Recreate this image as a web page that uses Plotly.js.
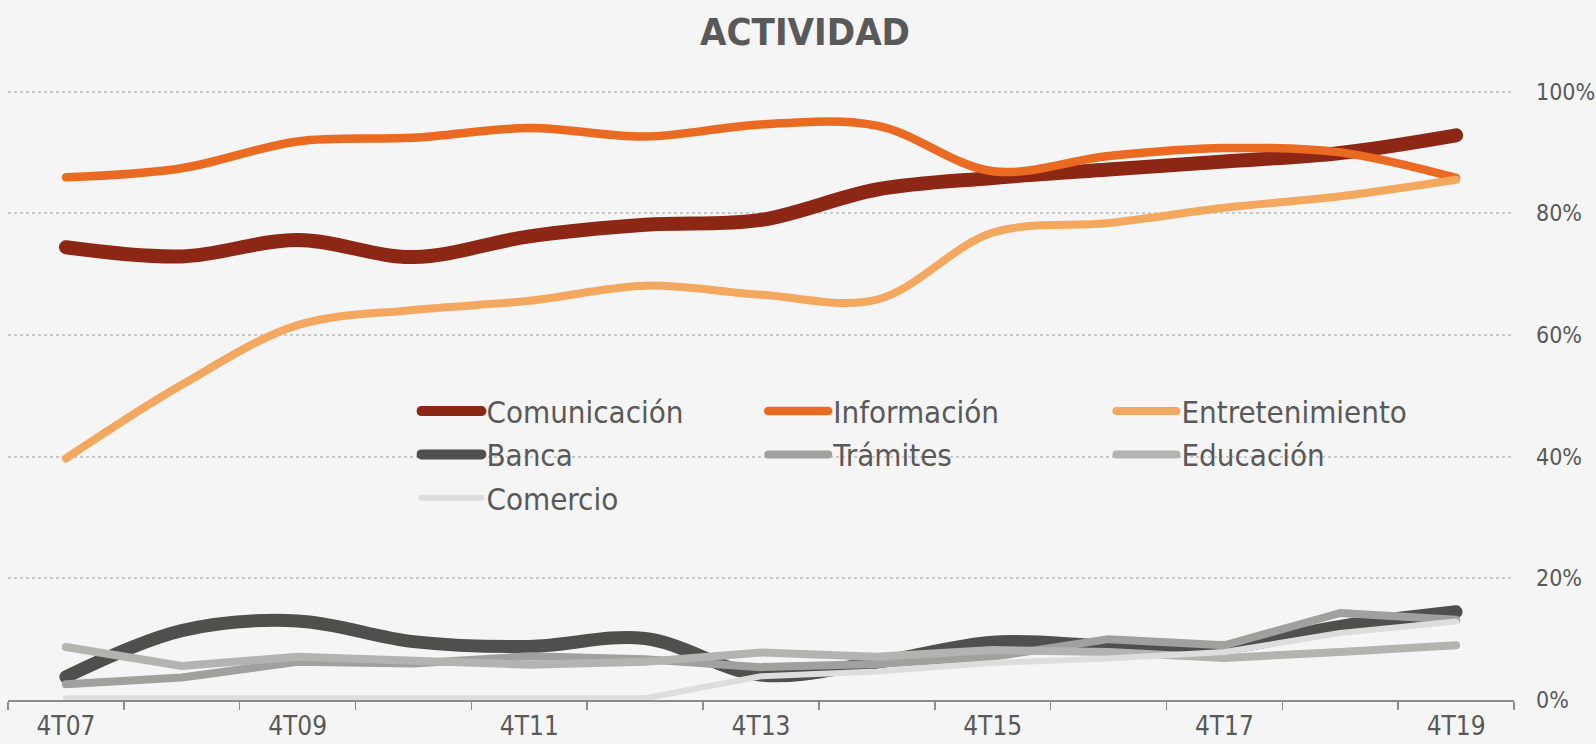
<!DOCTYPE html>
<html>
<head>
<meta charset="utf-8">
<script src="https://cdn.plot.ly/plotly-3.0.1.min.js"></script>
<style>
  html, body { margin: 0; padding: 0; background: #f5f5f5; }
  #chart { width: 1596px; height: 744px; }
  .js-line { stroke-linecap: round; stroke-linejoin: round; }
</style>
</head>
<body>
<div id="chart"></div>
<script>
const categories = ["4T07","4T08","4T09","4T10","4T11","4T12","4T13","4T14","4T15","4T16","4T17","4T18","4T19"];

const comunicacion    = [74.4, 72.9, 75.6, 72.8, 76.2, 78.1, 78.9, 83.9, 85.8, 87.2, 88.5, 89.9, 92.8];
const informacion     = [85.9, 87.4, 91.8, 92.4, 94.0, 92.6, 94.6, 94.4, 86.9, 89.4, 90.7, 90.0, 85.8];
const entretenimiento = [39.7, 51.8, 61.6, 64.1, 65.6, 68.1, 66.6, 65.8, 76.8, 78.4, 80.9, 82.8, 85.5];
const banca           = [3.8, 11.4, 13.0, 9.6, 8.8, 10.1, 4.1, 6.2, 9.5, 8.9, 8.6, 12.1, 14.5];
const tramites        = [2.6, 3.7, 6.3, 6.0, 7.2, 6.7, 5.4, 5.9, 7.1, 10.0, 9.0, 14.3, 13.2];
const educacion       = [8.7, 5.6, 7.1, 6.3, 5.8, 6.3, 7.8, 7.1, 8.2, 7.9, 6.9, 7.9, 9.0];
const comercio        = [0.3, 0.3, 0.3, 0.3, 0.3, 0.3, 3.9, 4.7, 6.1, 6.8, 7.9, 11.0, 12.9];

const seriesNames = ["Comunicación","Información","Entretenimiento","Banca","Trámites","Educación","Comercio"];
const yTickVals = [0, 20, 40, 60, 80, 100];
const yTickText = yTickVals.map(v => v + "%");
const xTickText = categories.map((c, i) => (i % 2 === 0 ? c : ""));

const FONT = "'DejaVu Sans Condensed', 'DejaVu Sans', sans-serif";
const TXT = "#595959";

function tr(name, y, color, width, shape, legend) {
  return {
    type: "scatter", mode: "lines", name: name, x: categories, y: y,
    line: { color: color, width: width, shape: shape, smoothing: 1 },
    legend: legend, hoverinfo: "skip"
  };
}

const data = [
  tr(seriesNames[0], comunicacion,    "#8c2716", 14, "spline", "legend"),
  tr(seriesNames[1], informacion,     "#ea6a22", 8.5, "spline", "legend2"),
  tr(seriesNames[2], entretenimiento, "#f4a75f", 8, "spline", "legend3"),
  tr(seriesNames[3], banca,           "#4f4f4d", 13, "spline", "legend"),
  tr(seriesNames[4], tramites,        "#a0a09e", 8, "linear", "legend2"),
  tr(seriesNames[5], educacion,       "#b3b3b1", 8, "linear", "legend3"),
  tr(seriesNames[6], comercio,        "#dddddd", 6, "linear", "legend")
];

function legendAt(x) {
  return {
    orientation: "v",
    x: x, xanchor: "left",
    y: 0.5173, yanchor: "top",
    bgcolor: "rgba(0,0,0,0)", borderwidth: 0,
    font: { family: FONT, size: 31, color: TXT },
    itemwidth: 60,
    tracegroupgap: 0,
    traceorder: "normal", itemclick: false, itemdoubleclick: false
  };
}

const layout = {
  width: 1596, height: 744,
  paper_bgcolor: "#f5f5f5", plot_bgcolor: "#f5f5f5",
  margin: { l: 8, r: 82, t: 90, b: 44 },
  font: { family: FONT, color: TXT },
  title: {
    text: "<b>ACTIVIDAD</b>",
    font: { family: FONT, size: 38, color: TXT },
    x: 0.5044, xref: "container", xanchor: "center",
    y: 0.958, yref: "container", yanchor: "middle"
  },
  xaxis: {
    type: "category",
    tickmode: "array", tickvals: categories, ticktext: xTickText,
    tickson: "boundaries",
    ticks: "outside", ticklen: 8, tickwidth: 1.5, tickcolor: "#8c8c8c",
    showline: true, linecolor: "#8c8c8c", linewidth: 2,
    showgrid: false, zeroline: false,
    tickfont: { family: FONT, size: 26, color: TXT },
    ticklabelstandoff: 2,
    range: [-0.5, 12.5], fixedrange: true
  },
  yaxis: {
    side: "right", range: [0, 100.25],
    tickmode: "array", tickvals: yTickVals, ticktext: yTickText,
    showgrid: true, gridcolor: "#c9c9c9", gridwidth: 2, griddash: "dot",
    zeroline: false, showline: false, ticks: "",
    tickfont: { family: FONT, size: 23, color: TXT },
    ticklabelstandoff: 21, fixedrange: true
  },
  showlegend: true,
  legend: legendAt(0.2712),
  legend2: legendAt(0.5015),
  legend3: legendAt(0.7327)
};

Plotly.newPlot("chart", data, layout, { staticPlot: true, displayModeBar: false });
</script>
</body>
</html>
